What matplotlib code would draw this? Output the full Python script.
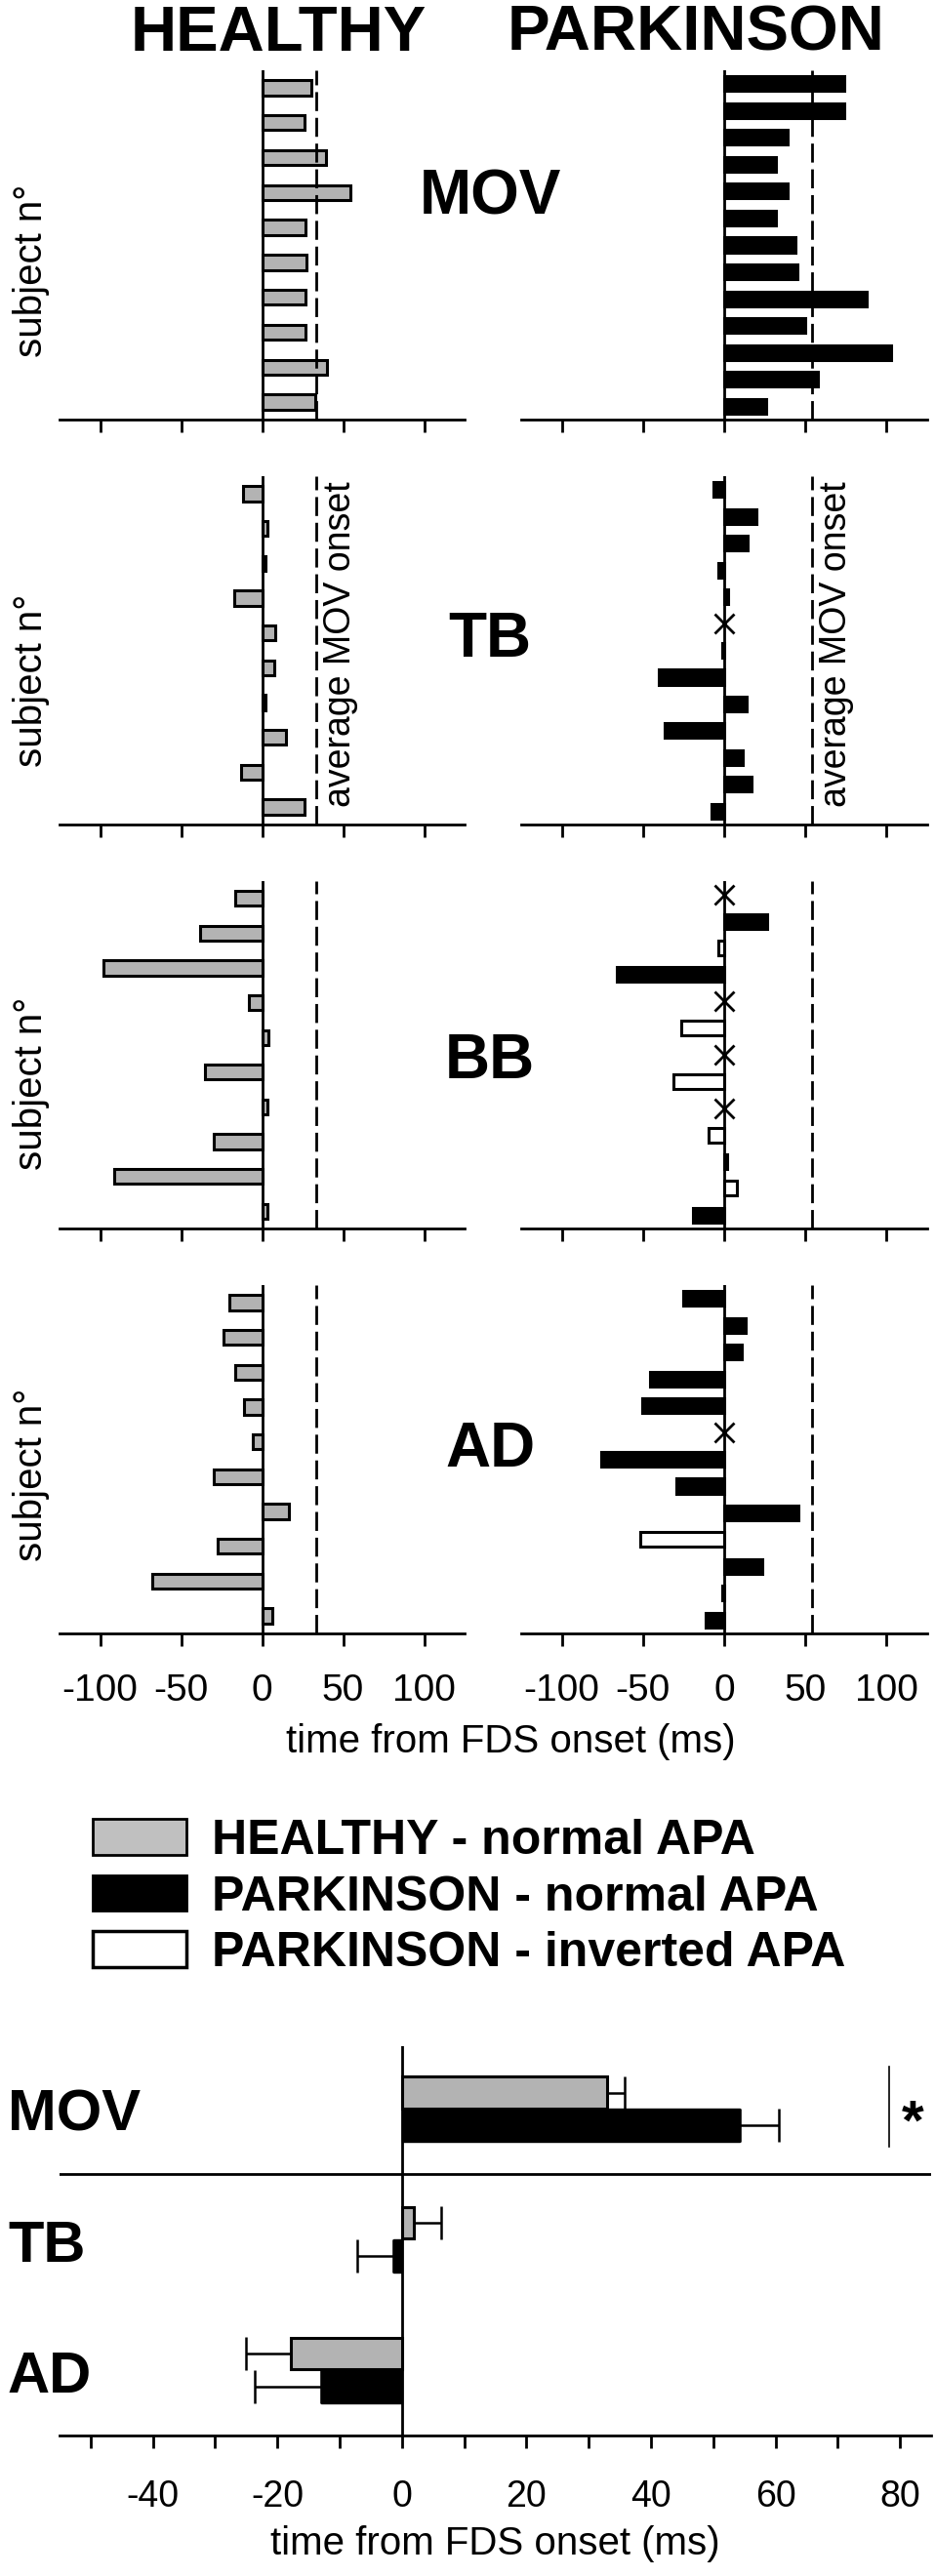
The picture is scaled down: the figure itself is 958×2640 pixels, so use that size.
import numpy as np
import matplotlib
matplotlib.use('Agg')
import matplotlib.pyplot as plt
import matplotlib.transforms as mtransforms
from matplotlib.patches import Patch

plt.rcParams['font.family'] = ['Liberation Sans', 'DejaVu Sans']
plt.rcParams['axes.unicode_minus'] = False

# onset of each muscle for every subject, relative to FDS onset (ms)
healthyMOV = [30.7, 26.1, 39.2, 54.8, 27.1, 27.7, 27.1, 27.1, 39.8, 32.7]
healthyTB = [-12, 3.4, 2, -17, 8, 7.4, 2, 15, -13, 26]
healthyBB = [-16.5, -38, -97.8, -8, 4, -35, 3.4, -30, -91.4, 3.4]
healthyAD = [-20, -24, -16.5, -11, -6, -30, 16.7, -27.7, -67.9, 6.2]

parkMOV = [73.8, 73.8, 38.9, 31.7, 38.9, 31.7, 43.7, 45, 87.7, 49.8, 103, 57.7, 25.6]
parkTB = [-6.5, 19.8, 14.3, -3.4, 2.6, 0, -1, -40, 13.7, -36.7, 11.3, 16.7, -7.9]
parkBB = [0, 26.4, -3.4, -66.3, 0, -26.2, 0, -31.2, 0, -9.5, 2, 7.7, -19]
parkAD = [-25.3, 13.3, 10.6, -45.6, -50.4, 0, -75.5, -29.5, 45.8, -51.8, 23.5, -1, -11.6]
# n = normal APA, i = inverted APA, x = no APA
parkMOVtype = 'nnnnnnnnnnnnn'
parkTBtype = 'nnnnnxnnnnnnn'
parkBBtype = 'xninxixixinin'
parkADtype = 'nnnnnxnnninnn'

# group averages (normal APA only)
groups = ['MOV', 'TB', 'AD']
healthyMean = [33.0, 1.9, -17.9]
healthySE = [2.7, 4.4, 7.2]
parkMean = [54.2, -1.4, -13.0]
parkSE = [6.4, 5.8, 10.7]

ticks = [-100, -50, 0, 50, 100]
gray = '#b3b3b3'

W, H = 958, 2640
fig = plt.figure(figsize=(W / 100, H / 100), dpi=100)


def box(x0, y0, x1, y1):
    # pixel box (top-left origin) -> figure fraction
    return [x0 / W, 1 - y1 / H, (x1 - x0) / W, (y1 - y0) / H]


def style(ax, labels):
    for s in ['left', 'right', 'top']:
        ax.spines[s].set_visible(False)
    ax.spines['bottom'].set_linewidth(2)
    ax.set_yticks([])
    ax.tick_params(axis='x', direction='out', length=9.5, width=2, pad=20,
                   labelsize=28, labelbottom=labels)


def panel(ax, vals, types, face, hgt, avg, labels, txt):
    n = len(vals)
    y = np.arange(1, n + 1)
    vals = np.array(vals, dtype=float)
    t = np.array(list(types))
    ax.axvline(avg, color='black', lw=2, ls=(0, (7, 2.5)), zorder=3)
    for code, fc in [('n', face), ('i', 'white')]:
        m = t == code
        ax.barh(y[m], vals[m], height=hgt, color=fc, edgecolor='black',
                lw=2.2, zorder=2)
    m = t == 'x'
    ax.plot(np.zeros(m.sum()), y[m], ls='none', marker='x', ms=14, mew=2,
            color='black', zorder=4)
    ax.axvline(0, color='black', lw=2, zorder=3)
    ax.set_xlim(-125, 125)
    ax.set_ylim(n + 0.5, 0.5)
    ax.set_xticks(ticks)
    style(ax, labels)
    if txt:
        tr = mtransforms.blended_transform_factory(ax.transData, ax.transAxes)
        ax.text(avg + 4.5, 0.518, 'average MOV onset', transform=tr,
                rotation=90, ha='left', va='center', fontsize=27)


rows = [('MOV', 72, 430, healthyMOV, parkMOV, parkMOVtype, 220, 277),
        ('TB', 488, 845, healthyTB, parkTB, parkTBtype, 673, 697),
        ('BB', 903, 1259, healthyBB, parkBB, parkBBtype, 1105, 1110),
        ('AD', 1317, 1674, healthyAD, parkAD, parkADtype, 1503, 1511)]

avgH = np.mean(healthyMOV)
avgP = np.mean(parkMOV)

for name, top, bot, hv, pv, pt, base, ylab in rows:
    last = name == 'AD'
    ax1 = fig.add_axes(box(61, top, 476, bot))
    panel(ax1, hv, 'n' * len(hv), gray, 0.43, avgH, last, name == 'TB')
    ax2 = fig.add_axes(box(534, top, 950, bot))
    panel(ax2, pv, pt, 'black', 0.55, avgP, last, name == 'TB')
    fig.text(502 / W, 1 - base / H, name, ha='center', va='baseline',
             fontsize=46, fontweight='bold')
    fig.text(32 / W, 1 - ylab / H, 'subject n°', rotation=90, ha='center',
             va='center', fontsize=29)

fig.text(285 / W, 1 - 52 / H, 'HEALTHY', ha='center', va='baseline',
         fontsize=47, fontweight='bold')
fig.text(713 / W, 1 - 52 / H, 'PARKINSON', ha='center', va='baseline',
         fontsize=47, fontweight='bold')
fig.text(523 / W, 1 - 1785 / H, 'time from FDS onset (ms)', ha='center',
         va='center', fontsize=29)

# legend
handles = [Patch(facecolor='#c0c0c0', edgecolor='black', lw=2),
           Patch(facecolor='black', edgecolor='black', lw=2),
           Patch(facecolor='white', edgecolor='black', lw=2.5)]
labels = ['HEALTHY - normal APA', 'PARKINSON - normal APA',
          'PARKINSON - inverted APA']
fig.legend(handles, labels, loc='upper left',
           bbox_to_anchor=(95 / W, 1 - 1864 / H), frameon=False,
           prop=dict(weight='bold', size=36), handlelength=1.92,
           handleheight=0.74, handletextpad=0.52, labelspacing=0.23,
           borderpad=0, borderaxespad=0)

# group means
ax = fig.add_axes(box(61, 2097, 954, 2496))
pos = np.arange(len(groups))
hm = np.array(healthyMean)
pm = np.array(parkMean)
hs = np.array(healthySE)
ps = np.array(parkSE)
ax.barh(pos - 0.125, hm, height=0.24, color=gray, edgecolor='black', lw=2.2,
        zorder=2)
ax.barh(pos + 0.125, pm, height=0.25, color='black', edgecolor='black', lw=1,
        zorder=2)
for yy, mm, ss in [(pos - 0.125, hm, hs), (pos + 0.125, pm, ps)]:
    lo = np.where(mm < 0, ss, 0)
    hi = np.where(mm >= 0, ss, 0)
    ax.errorbar(mm, yy, xerr=[lo, hi], fmt='none', ecolor='black',
                elinewidth=1.8, capsize=12.5, capthick=1.8, zorder=1)
ax.axvline(0, color='black', lw=2, zorder=3)
ax.axhline(0.5, color='black', lw=2)
ax.plot([78.3, 78.3], [-0.32, 0.29], color='black', lw=1.2)
ax.text(80.2, 0.12, '*', ha='left', va='center', fontsize=42,
        fontweight='bold')
ax.set_xlim(-55, 85)
ax.set_ylim(2.5, -0.48)
ax.set_xticks(range(-50, 81, 10))
ax.set_xticklabels(['' if v % 20 or v == -50 else str(v)
                    for v in range(-50, 81, 10)])
style(ax, True)
ax.tick_params(axis='x', labelsize=27, pad=23)
ax.set_xlabel('time from FDS onset (ms)', fontsize=29, labelpad=8)
for g, b in zip(groups, [2183, 2318, 2452]):
    fig.text(8 / W, 1 - b / H, g, ha='left', va='baseline', fontsize=43,
             fontweight='bold')

fig.savefig('out.png', dpi=100)
